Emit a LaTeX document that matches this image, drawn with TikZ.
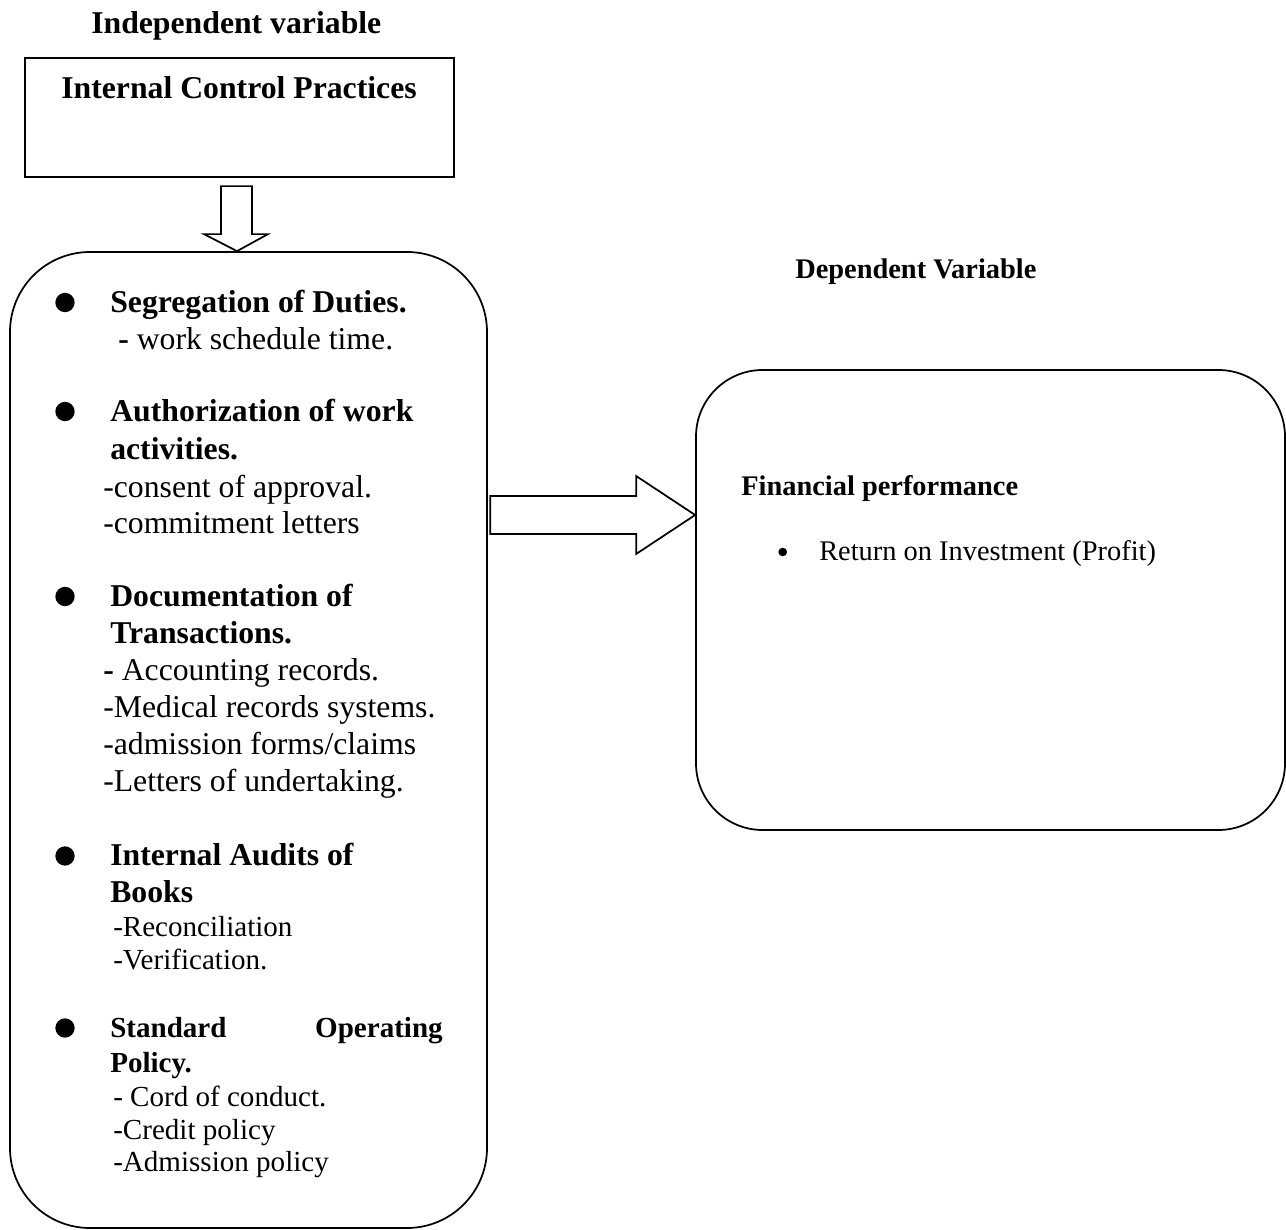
\documentclass[tikz,border=0pt]{standalone}
\usepackage{fontspec}
\setmainfont{Liberation Serif}
\usetikzlibrary{calc}
\begin{document}
\begin{tikzpicture}[x=0.75pt,y=-0.75pt,
  boxline/.style={draw=black, line width=1.3pt, inner sep=0pt},
  txtA/.style={anchor=base west, inner sep=0pt, font=\fontsize{23.8}{28}\selectfont},
  txtAb/.style={anchor=base west, inner sep=0pt, font=\fontsize{23.8}{28}\selectfont\bfseries},
  txtB/.style={anchor=base west, inner sep=0pt, font=\fontsize{21.8}{26}\selectfont},
  txtBb/.style={anchor=base west, inner sep=0pt, font=\fontsize{21.8}{26}\selectfont\bfseries},
  txtC/.style={anchor=base west, inner sep=0pt, font=\fontsize{21.3}{25}\selectfont},
  txtCb/.style={anchor=base west, inner sep=0pt, font=\fontsize{21.3}{25}\selectfont\bfseries},
  bigdot/.style={circle, fill=black, inner sep=0pt, minimum size=14.5pt},
  smalldot/.style={circle, fill=black, inner sep=0pt, minimum size=6.5pt},
  blockarrow/.style={draw=black, line width=1.3pt, fill=white, line join=miter}
]
\useasboundingbox (0,0) rectangle (1286,1230);

% boxes
\node[boxline, minimum width=321.75pt, minimum height=89.25pt] (icp) at (239.5,117.5) {};
\node[boxline, rounded corners=60pt, minimum width=357.75pt, minimum height=732pt] (lbox) at (248.5,740) {};
\node[boxline, rounded corners=50pt, minimum width=441.75pt, minimum height=345pt] (rbox) at (990.5,600) {};

% block arrows
\coordinate (dtip) at ($(lbox.north)+(-11.5,0)$);
\draw[blockarrow] (dtip) -- ++(-33,-17) -- ++(17,0) -- ++(0,-48) -- ++(31,0) -- ++(0,48) -- ++(16,0) -- cycle;
\coordinate (rtip) at ($(rbox.west)+(0,-85)$);
\draw[blockarrow] (rtip) -- ++(-59,-39) -- ++(0,20) -- ++(-146,0) -- ++(0,38) -- ++(146,0) -- ++(0,20) -- cycle;

% titles
\node[txtAb] (indep) at (91,34) {Independent variable};
\node[txtAb] (icpt) at (61,99) {Internal Control Practices};
\node[txtCb] (dep) at (795,279) {Dependent Variable};

% right box content
\node[txtCb] (fin) at (741,496) {Financial performance};
\node[smalldot] (rb) at (782.7,552) {};
\node[txtC] (roi) at (819,561) {Return on Investment (Profit)};

% left box bullets
\node[bigdot] (b1) at (65,302.5) {};
\node[bigdot] (b2) at (65,411.5) {};
\node[bigdot] (b3) at (65,596.5) {};
\node[bigdot] (b4) at (65,856) {};
\node[bigdot] (b5) at (65,1028) {};

% section 1
\node[txtAb] (s1h) at (110,313) {Segregation of Duties.};
\node[txtA] (s1a) at (118,349.5) {\textbf{-} work schedule time.};
% section 2
\node[txtAb] (s2h) at (110,422) {Authorization of work};
\node[txtAb] (s2h2) at (110,459.5) {activities.};
\node[txtA] (s2a) at (103,497.5) {-consent of approval.};
\node[txtA] (s2b) at (103,533.5) {-commitment letters};
% section 3
\node[txtAb] (s3h) at (110,606.5) {Documentation of};
\node[txtAb] (s3h2) at (110,643.5) {Transactions.};
\node[txtA] (s3a) at (103,680.5) {\textbf{-} Accounting records.};
\node[txtA] (s3b) at (103,717.5) {-Medical records systems.};
\node[txtA] (s3c) at (103,754.5) {-admission forms/claims};
\node[txtA] (s3d) at (103,791.5) {-Letters of undertaking.};
% section 4
\node[txtAb] (s4h) at (110,865.5) {Internal Audits of};
\node[txtAb] (s4h2) at (110,902.5) {Books};
\node[txtB] (s4a) at (113,936.5) {-Reconciliation};
\node[txtB] (s4b) at (113,969.5) {-Verification.};
% section 5
\node[txtBb] (s5h) at (110,1037.5) {Standard};
\node[txtBb, anchor=base east] (s5hr) at (443,1037.5) {Operating};
\node[txtBb] (s5h2) at (110,1072.5) {Policy.};
\node[txtB] (s5a) at (113,1106.5) {- Cord of conduct.};
\node[txtB] (s5b) at (113,1139.5) {-Credit policy};
\node[txtB] (s5c) at (113,1171.5) {-Admission policy};
\end{tikzpicture}
\end{document}
